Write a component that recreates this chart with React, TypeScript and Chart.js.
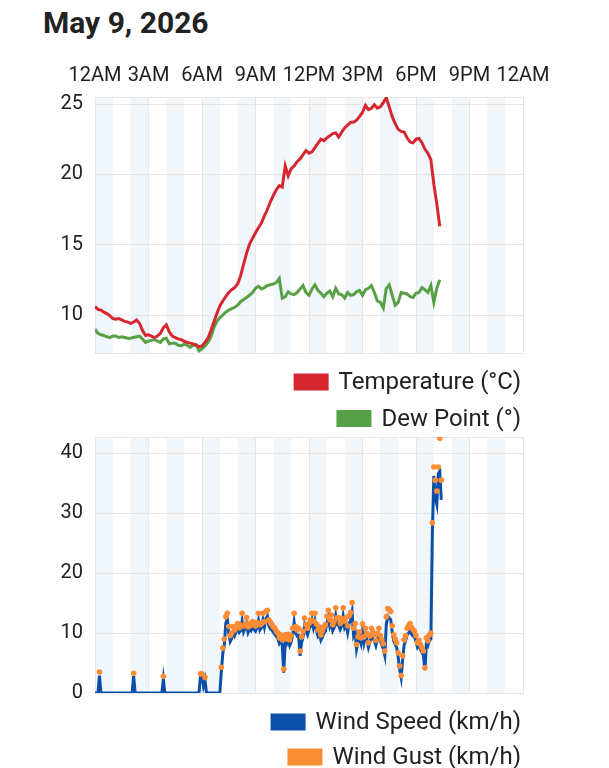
import { useEffect, useRef } from "react";
import { Chart, registerables } from "chart.js";

Chart.register(...registerables);

const TITLE = "May 9, 2026";
const TEMP_STEP_MINUTES = 10;
const WIND_STEP_MINUTES = 5;
const X_TICK_LABELS = ["12AM", "3AM", "6AM", "9AM", "12PM", "3PM", "6PM", "9PM", "12AM"];

// 10-minute samples from 12AM
const temperature = [
  10.6, 10.4, 10.35, 10.2, 10.1, 9.95, 9.75, 9.7, 9.75, 9.65, 9.55, 9.5,
  9.4, 9.5, 9.65, 9.4, 8.9, 8.55, 8.6, 8.5, 8.4, 8.5, 8.7, 9.1,
  9.3, 8.8, 8.5, 8.4, 8.3, 8.25, 8.15, 8.05, 8.0, 7.95, 7.85, 7.75,
  7.8, 8.05, 8.35, 8.9, 9.5, 10.1, 10.65, 11.0, 11.3, 11.6, 11.8, 11.95,
  12.2, 12.8, 13.6, 14.4, 15.05, 15.45, 15.85, 16.2, 16.55, 17.05, 17.5, 18.05,
  18.5, 18.9, 19.2, 19.1, 20.6, 19.9, 20.4, 20.6, 20.9, 21.1, 21.4, 21.7,
  21.5, 21.6, 21.9, 22.2, 22.5, 22.4, 22.6, 22.75, 22.9, 22.95, 22.65, 23.0,
  23.3, 23.5, 23.7, 23.7, 23.85, 24.1, 24.4, 24.9, 24.6, 24.7, 24.95, 24.7,
  24.8, 25.1, 25.45, 24.8, 24.1, 23.6, 23.2, 23.05, 23.0, 22.6, 22.3, 22.25,
  22.5, 22.55, 22.25, 21.8, 21.5, 21.05, 19.3, 17.9, 16.3,
];

const dewPoint = [
  9.0, 8.7, 8.6, 8.55, 8.45, 8.4, 8.5, 8.5, 8.4, 8.45, 8.4, 8.35,
  8.35, 8.4, 8.45, 8.5, 8.3, 8.05, 8.15, 8.2, 8.25, 8.15, 8.05, 8.3,
  8.35, 7.95, 8.0, 8.0, 7.85, 7.8, 7.95, 7.85, 7.7, 7.85, 7.9, 7.45,
  7.6, 7.8, 8.05, 8.45, 9.1, 9.55, 9.8, 10.0, 10.2, 10.35, 10.45, 10.55,
  10.7, 10.95, 11.1, 11.25, 11.4, 11.6, 11.9, 12.05, 11.85, 11.95, 12.1, 12.15,
  12.2, 12.3, 12.6, 11.2, 11.3, 11.65, 11.5, 11.45, 11.6, 11.85, 12.1, 11.6,
  11.4, 11.85, 12.15, 11.75, 11.55, 11.3, 11.55, 11.7, 11.3, 11.9, 11.5, 11.45,
  11.2, 11.6, 11.4, 11.45, 11.65, 11.75, 11.4, 11.8, 11.9, 12.1, 11.6, 11.0,
  10.9, 10.5, 11.9, 12.15, 11.4, 10.7, 10.9, 11.6, 11.55, 11.5, 11.3, 11.25,
  11.55, 11.6, 11.95, 11.8, 11.6, 12.1, 10.9, 11.9, 12.5,
];

// 5-minute samples from 12AM (one row per hour)
const windSpeed = [
  0, 0, 0, 2.9, 0, 0, 0, 0, 0, 0, 0, 0,
  0, 0, 0, 0, 0, 0, 0, 0, 0, 0, 0, 0,
  0, 0, 2.8, 0, 0, 0, 0, 0, 0, 0, 0, 0,
  0, 0, 0, 0, 0, 0, 0, 0, 0, 0, 2.3, 0,
  0, 0, 0, 0, 0, 0, 0, 0, 0, 0, 0, 0,
  0, 0, 0, 0, 0, 0, 0, 0, 0, 0, 0, 2.9,
  2.9, 1.2, 2.2, 0, 0, 0, 0, 0, 0, 0, 0, 0,
  0, 3.6, 6.6, 8.0, 11.6, 12.5, 10.0, 8.6, 9.1, 10.2, 9.6, 10.3,
  10.6, 10.1, 10.4, 12.0, 10.2, 10.8, 11.5, 10.1, 10.7, 10.4, 11.0, 10.6,
  10.3, 10.9, 12.1, 10.5, 10.9, 12.2, 11.0, 12.4, 12.8, 11.2, 10.7, 10.5,
  10.1, 9.8, 9.4, 9.1, 8.3, 8.8, 8.0, 3.4, 8.6, 8.2, 8.7, 7.9,
  8.5, 9.7, 11.8, 10.0, 9.5, 9.6, 6.2, 8.4, 9.3, 11.2, 10.3, 9.7,
  10.6, 11.1, 12.2, 10.9, 12.0, 10.4, 9.5, 9.9, 8.8, 9.3, 10.0, 10.3,
  11.6, 12.6, 11.1, 11.8, 10.4, 10.9, 12.9, 11.4, 11.2, 10.6, 11.2, 12.8,
  10.9, 11.4, 10.1, 11.6, 12.1, 13.5, 9.7, 10.4, 7.3, 8.5, 9.2, 8.3,
  10.3, 8.4, 9.7, 8.9, 7.6, 8.5, 9.7, 9.1, 8.7, 7.9, 8.9, 9.7,
  8.7, 8.0, 7.4, 6.3, 11.4, 12.8, 12.5, 12.2, 10.1, 8.7, 8.1, 7.6,
  6.0, 4.0, 2.6, 5.5, 8.0, 8.7, 9.7, 10.0, 10.4, 9.8, 9.5, 9.3,
  8.7, 7.6, 7.9, 7.3, 6.8, 6.3, 3.8, 8.3, 7.9, 8.8, 9.0, 26.5,
  36.2, 32.5, 31.4, 36.5, 37.0, 32.2,
];

const windGust = [
  null, null, null, 3.5, null, null, null, null, null, null, null, null,
  null, null, null, null, null, null, null, null, null, null, null, null,
  null, null, 3.3, null, null, null, null, null, null, null, null, null,
  null, null, null, null, null, null, null, null, null, null, 2.8, null,
  null, null, null, null, null, null, null, null, null, null, null, null,
  null, null, null, null, null, null, null, null, null, null, null, 3.2,
  3.2, null, 2.6, null, null, null, null, null, null, null, null, null,
  null, 4.3, 7.5, 9.0, 12.7, 13.3, 11.1, 9.6, 10.0, 11.1, 10.5, 11.1,
  11.6, 10.9, 11.3, 13.3, 11.2, 11.6, 12.6, 11.0, 11.6, 11.3, 11.9, 11.5,
  11.2, 11.8, 13.3, 11.4, 11.6, 13.3, 11.9, 13.6, 13.8, 12.2, 11.8, 11.4,
  11.0, 10.8, 10.3, 10.0, 9.2, 9.7, 8.9, 4.0, 9.7, 9.0, 9.8, 8.9,
  9.6, 10.8, 13.3, 11.1, 10.5, 10.8, 7.0, 9.4, 10.3, 12.5, 11.4, 10.8,
  11.6, 12.2, 13.3, 12.0, 13.3, 11.5, 10.5, 11.0, 9.7, 10.4, 11.0, 11.4,
  12.8, 13.8, 12.2, 13.0, 11.4, 12.0, 14.2, 12.6, 12.5, 11.6, 12.4, 14.2,
  12.0, 12.6, 11.2, 12.9, 13.4, 15.1, 10.8, 11.6, 8.1, 9.4, 10.2, 9.2,
  11.5, 9.4, 10.8, 9.9, 8.4, 9.5, 10.8, 10.2, 9.7, 8.8, 9.9, 10.8,
  9.6, 8.9, 8.2, 7.0, 12.7, 14.1, 13.9, 13.6, 11.2, 9.7, 9.0, 8.4,
  6.7, 4.5, 2.9, 6.2, 8.9, 9.6, 10.8, 11.2, 11.6, 10.9, 10.6, 10.3,
  9.6, 8.4, 8.8, 8.1, 7.6, 7.0, 4.2, 9.2, 8.7, 9.7, 10.0, 28.4,
  37.7, 35.5, 33.7, 37.7, 42.5, 35.5,
];

const FONT = "Roboto";
const TEXT_COLOR = "#212121";
const GRID_COLOR = "#e6e6e6";
const BAND_COLOR = "#f1f6fb";

const toPoints = (values: (number | null)[], step: number) =>
  values.map((v, i) => ({ x: i * step, y: v }));

const bandsPlugin = {
  id: "bands",
  beforeDraw(chart: any) {
    const { ctx, chartArea, scales } = chart;
    const xs = scales.x;
    ctx.save();
    ctx.fillStyle = BAND_COLOR;
    for (let h = 0; h < 24; h += 2) {
      const x0 = xs.getPixelForValue(h * 60);
      const x1 = xs.getPixelForValue((h + 1) * 60);
      ctx.fillRect(x0, chartArea.top, x1 - x0, chartArea.bottom - chartArea.top);
    }
    ctx.restore();
  },
};

const framePlugin = {
  id: "frame",
  beforeDatasetsDraw(chart: any) {
    const { ctx, chartArea } = chart;
    ctx.save();
    ctx.strokeStyle = GRID_COLOR;
    ctx.lineWidth = 1;
    ctx.strokeRect(
      Math.round(chartArea.left) + 0.5,
      Math.round(chartArea.top) + 0.5,
      Math.round(chartArea.right - chartArea.left),
      Math.round(chartArea.bottom - chartArea.top)
    );
    ctx.restore();
  },
};

const legendPlugin = {
  id: "stackLegend",
  afterDraw(chart: any) {
    const { ctx, chartArea } = chart;
    const right = chartArea.right - 2;
    const gap = chart.options.legendRowGap ?? 35.5;
    ctx.save();
    ctx.font = `24px ${FONT}`;
    ctx.textBaseline = "middle";
    ctx.textAlign = "left";
    chart.data.datasets.forEach((ds: any, i: number) => {
      const cy = chartArea.bottom + 29 + i * gap;
      const w = ctx.measureText(ds.label).width;
      const tx = right - w;
      ctx.fillStyle = ds.legendColor;
      ctx.fillRect(tx - 10 - 35, cy - 8.5, 35, 17);
      ctx.fillStyle = TEXT_COLOR;
      ctx.fillText(ds.label, tx, cy + 1);
    });
    ctx.restore();
  },
};

function xAxis(showLabels: boolean) {
  return {
    type: "linear",
    position: "top",
    min: 0,
    max: 1440,
    ticks: {
      display: showLabels,
      stepSize: 180,
      autoSkip: false,
      maxRotation: 0,
      padding: 9,
      color: TEXT_COLOR,
      font: { family: FONT, size: 20 },
      callback: (v: number) => X_TICK_LABELS[Math.round(v / 180)] ?? "",
    },
    grid: { color: GRID_COLOR, drawTicks: false },
    border: { color: GRID_COLOR },
  };
}

function yAxis(min: number, max: number, step: number) {
  return {
    type: "linear",
    min,
    max,
    ticks: {
      stepSize: step,
      includeBounds: false,
      padding: 12,
      color: TEXT_COLOR,
      font: { family: FONT, size: 20 },
    },
    grid: { color: GRID_COLOR, drawTicks: false },
    border: { color: GRID_COLOR },
    afterFit: (axis: any) => {
      axis.width = 87;
    },
  };
}

function ChartCanvas({ config, width, height, top }: any) {
  const ref = useRef<HTMLCanvasElement | null>(null);
  useEffect(() => {
    if (!ref.current) return;
    const chart = new Chart(ref.current, config);
    return () => chart.destroy();
  }, []);
  return (
    <canvas
      ref={ref}
      width={width}
      height={height}
      style={{ position: "absolute", left: 0, top, width, height }}
    />
  );
}

export default function App() {
  const tempConfig: any = {
    type: "line",
    data: {
      datasets: [
        {
          label: "Temperature (°C)",
          data: toPoints(temperature, TEMP_STEP_MINUTES),
          borderColor: "#d62630",
          legendColor: "#d52630",
          borderWidth: 3,
          pointRadius: 0,
          tension: 0,
        },
        {
          label: "Dew Point (°)",
          data: toPoints(dewPoint, TEMP_STEP_MINUTES),
          borderColor: "#58a045",
          legendColor: "#56a04a",
          borderWidth: 3,
          pointRadius: 0,
          tension: 0,
        },
      ],
    },
    options: {
      responsive: false,
      animation: false,
      devicePixelRatio: 1,
      legendRowGap: 36.5,
      layout: { padding: { top: 5, right: 78, bottom: 84, left: 0 } },
      scales: { x: xAxis(true), y: yAxis(7.3, 25.5, 5) },
      plugins: { legend: { display: false }, tooltip: { enabled: false } },
    },
    plugins: [bandsPlugin, framePlugin, legendPlugin],
  };

  const windConfig: any = {
    type: "line",
    data: {
      datasets: [
        {
          label: "Wind Speed (km/h)",
          data: toPoints(windSpeed, WIND_STEP_MINUTES),
          borderColor: "#0a50aa",
          legendColor: "#0d50ab",
          borderWidth: 3,
          pointRadius: 0,
          tension: 0,
          order: 1,
        },
        {
          label: "Wind Gust (km/h)",
          data: toPoints(windGust, WIND_STEP_MINUTES),
          borderColor: "#fd8c34",
          backgroundColor: "#fd8c34",
          legendColor: "#fb8e33",
          showLine: false,
          pointRadius: 2.8,
          pointBorderWidth: 0,
          order: 0,
        },
      ],
    },
    options: {
      responsive: false,
      animation: false,
      devicePixelRatio: 1,
      legendRowGap: 35,
      layout: { padding: { top: 0, right: 78, bottom: 75, left: 0 } },
      scales: { x: xAxis(false), y: yAxis(0, 42.7, 10) },
      plugins: { legend: { display: false }, tooltip: { enabled: false } },
    },
    plugins: [bandsPlugin, framePlugin, legendPlugin],
  };

  return (
    <div style={{ position: "relative", width: 593, height: 760 }}>
      <div
        style={{
          position: "absolute",
          left: 35,
          top: -3,
          fontFamily: FONT,
          fontWeight: 700,
          fontSize: 30,
          lineHeight: 1.2,
          color: "#222222",
          whiteSpace: "nowrap",
        }}
      >
        {TITLE}
      </div>
      <ChartCanvas config={tempConfig} width={593} height={387} top={42} />
      <ChartCanvas config={windConfig} width={593} height={355} top={405} />
    </div>
  );
}
